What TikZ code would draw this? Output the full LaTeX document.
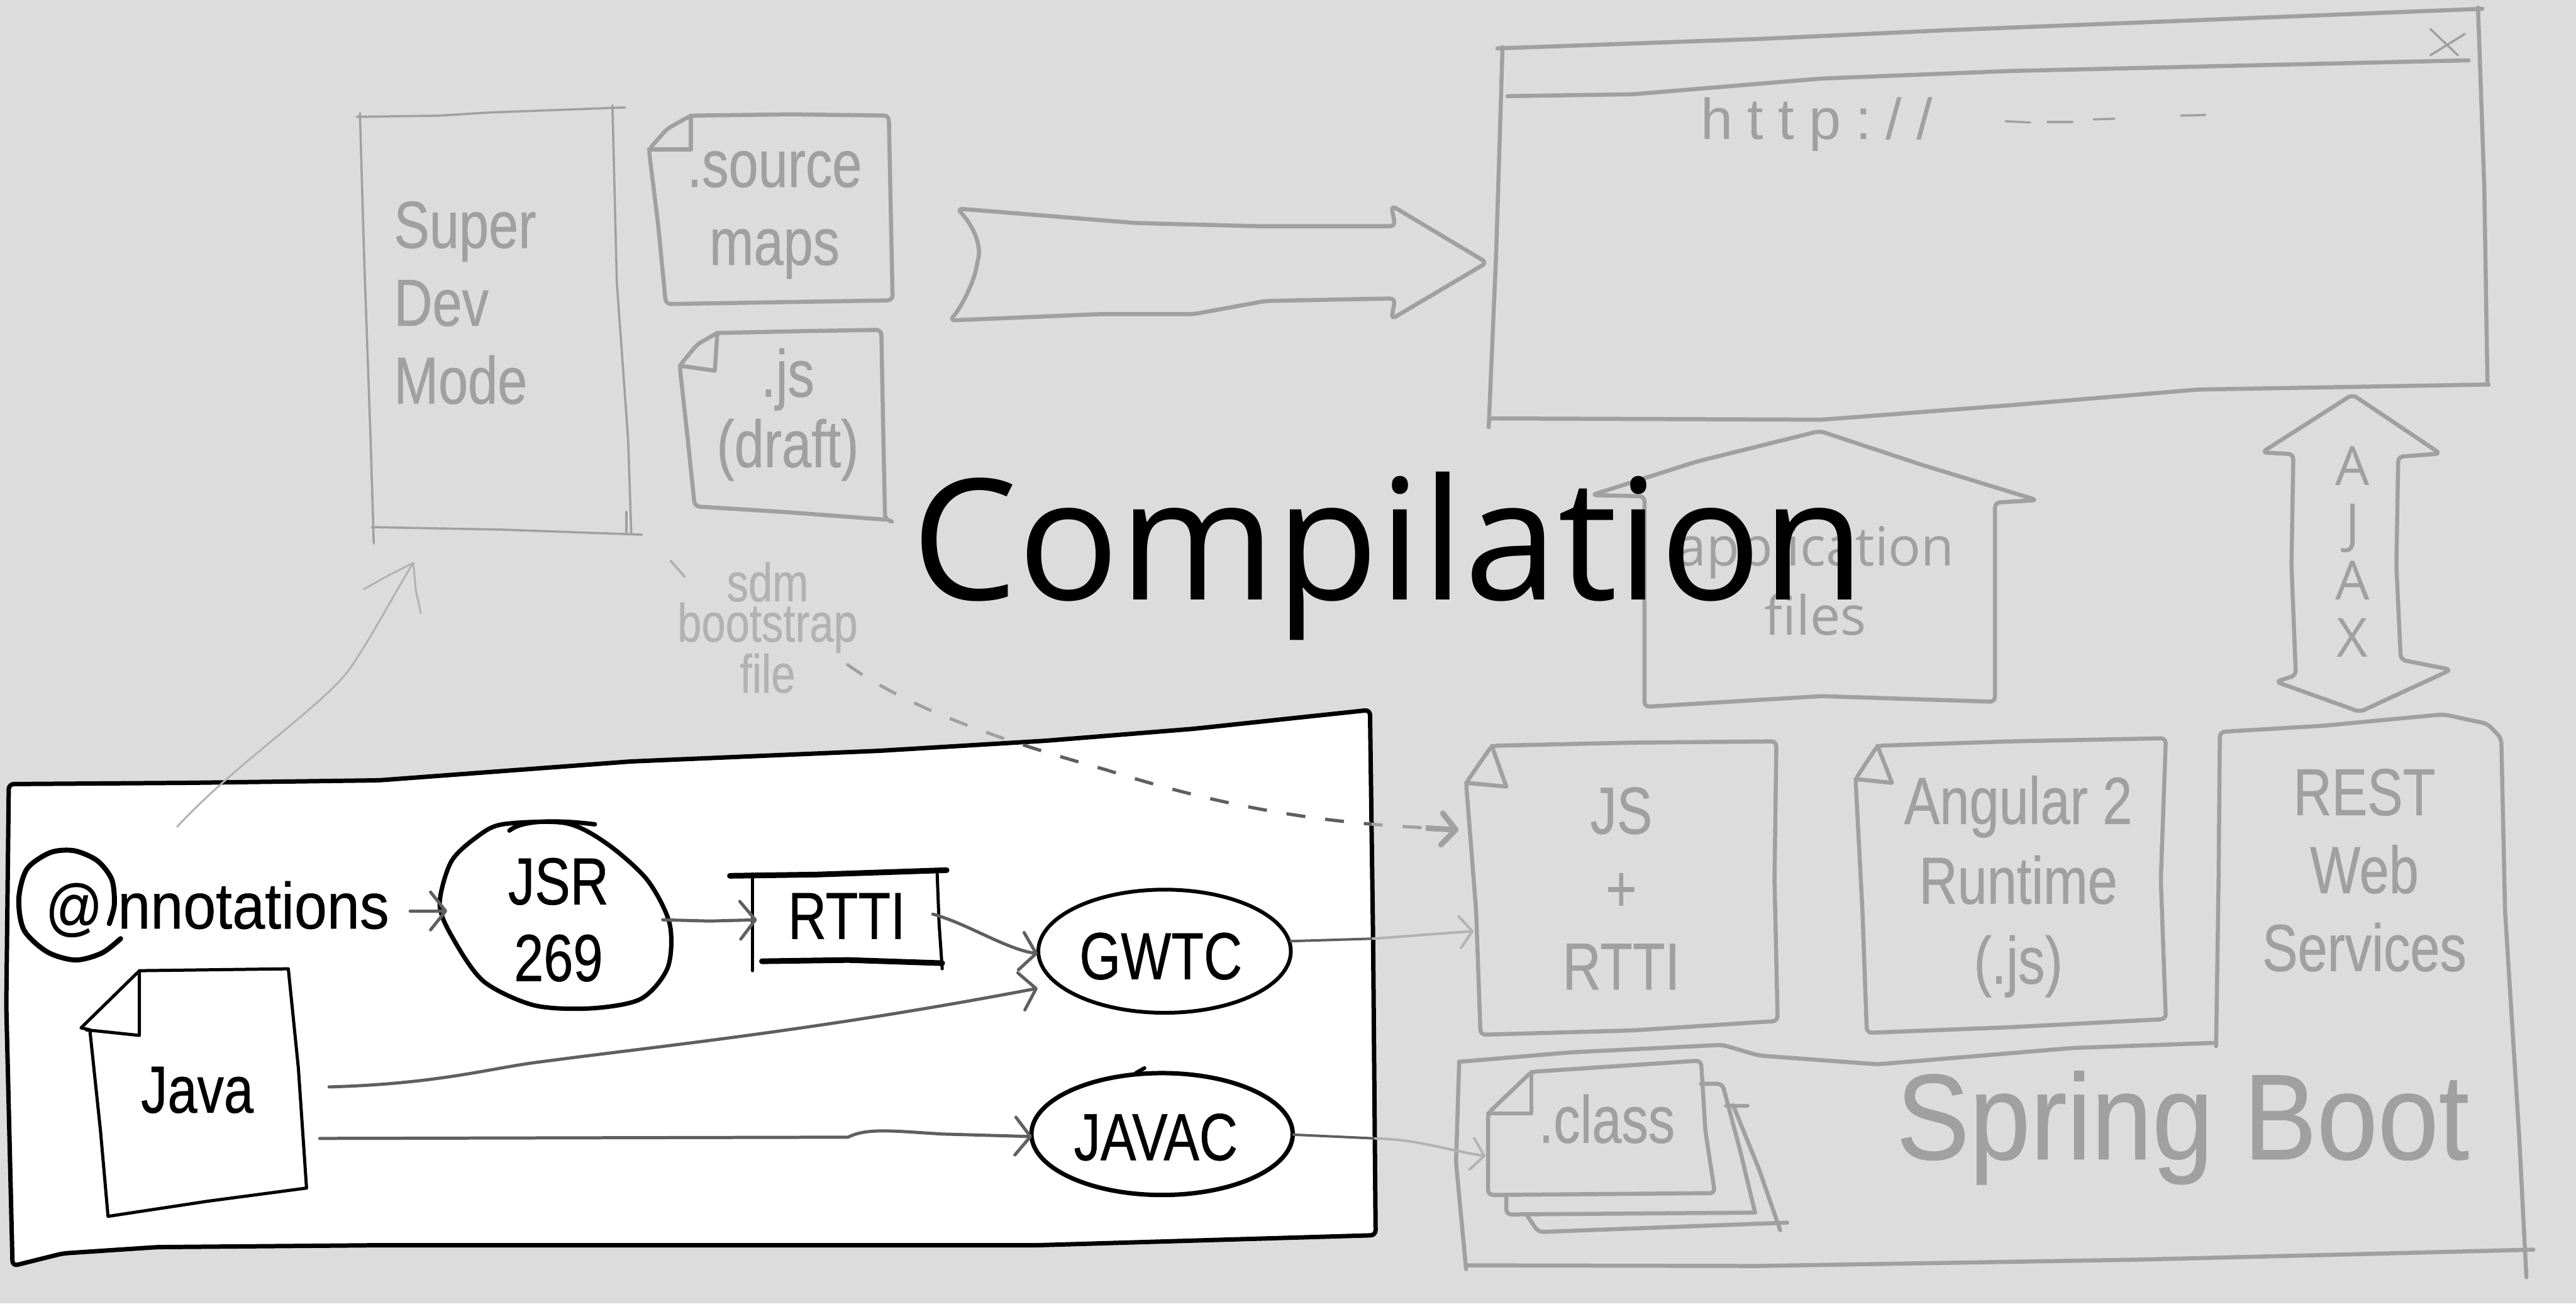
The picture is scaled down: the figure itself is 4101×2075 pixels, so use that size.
\documentclass[tikz,border=0pt]{standalone}
\usepackage{fontspec}
\setmainfont{Liberation Sans}
\newfontfamily\rob[FakeStretch=0.9,FakeBold=0.4]{Liberation Sans}
\newfontfamily\robn[FakeStretch=0.8,FakeBold=0.5]{Liberation Sans}
\newfontfamily\handf[LetterSpace=25]{Liberation Sans}
\newfontfamily\seg{Open Sans}
\usetikzlibrary{arrows.meta}
\definecolor{bgc}{RGB}{220,220,220}
\definecolor{lg}{RGB}{160,160,160}
\definecolor{llg}{RGB}{178,178,178}
\definecolor{dg}{RGB}{95,95,95}
\tikzset{
  gl/.style={draw=lg, line width=6.5pt, line cap=round, line join=round, rounded corners=8pt},
  gthin/.style={draw=lg, line width=3.5pt, line cap=round, line join=round},
  bl/.style={draw=black, line width=7pt, line cap=round, line join=round, rounded corners=8pt},
  barb/.style={-{Straight Barb[length=24pt,width=60pt,line width=5pt,round]}},
  conn/.style={draw=dg, line width=5pt, line cap=round, barb},
  lconn/.style={draw=llg, line width=4pt, line cap=round},
  gtxt/.style={text=lg, font=\robn\fontsize{106}{124}\selectfont, align=center, inner sep=0pt},
  btxt/.style={text=black, font=\robn\fontsize{106}{122}\selectfont, align=center, inner sep=0pt},
}
\begin{document}
\begin{tikzpicture}[x=1pt,y=-1pt]
\useasboundingbox (0,0) rectangle (4101,2075);
\fill[bgc] (0,0) rectangle (4101,2075);

% ---------- Super Dev Mode ----------
\draw[gthin] (568,186) -- (700,184) -- (780,179) -- (995,171);
\draw[gthin] (573,180) -- (580,420) -- (590,700) -- (595,865);
\draw[gthin] (975,168) -- (982,450) -- (1000,700) -- (1005,850);
\draw[gthin] (592,839) -- (800,843) -- (1022,851);
\draw[gthin] (997,815) -- (997,848);
\node[gtxt, align=left, anchor=west] (sdmode) at (627,482) {Super\\Dev\\Mode};

% ---------- .source maps ----------
\draw[gl] (1100,184) -- (1260,182) -- (1415,184) -- (1418,330) -- (1421,478) -- (1240,481) -- (1060,484) -- (1048,360) -- (1033,238) -- (1062,205) -- cycle;
\draw[gl, rounded corners=0pt] (1100,184) -- (1100,238) -- (1033,238);
\node[gtxt] (srcmaps) at (1233,342) {.source\\maps};

% ---------- .js (draft) ----------
\draw[gl] (1142,530) -- (1280,527) -- (1403,525) -- (1406,680) -- (1409,827) -- (1420,830);
\draw[gl] (1409,827) -- (1250,815) -- (1106,806) -- (1095,700) -- (1082,582) -- (1110,548) -- (1142,530);
\draw[gl, rounded corners=0pt] (1142,530) -- (1138,590) -- (1082,582);
\node[gtxt, font=\robn\fontsize{106}{112}\selectfont] (jsdraft) at (1254,660) {.js\\(draft)};

% ---------- big arrow ----------
\draw[gl] (1524,332) .. controls (1550,360) and (1562,390) .. (1556,418) .. controls (1550,450) and (1530,490) .. (1512,510) -- (1750,500) -- (1900,500) -- (2015,479) -- (2221,475) -- (2215,508) -- (2367,418) -- (2215,327) -- (2221,360) -- (2000,360) -- (1809,355) -- cycle;

% ---------- browser window ----------
\draw[gl] (2384,77) -- (2800,62) -- (3100,48) -- (3952,14);
\draw[gl] (2392,75) -- (2382,400) -- (2370,680);
\draw[gl] (3945,12) -- (3955,300) -- (3960,612);
\draw[gl] (3962,612) -- (3500,620) -- (3200,645) -- (2900,668) -- (2372,666);
\draw[gl] (2400,153) -- (2600,150) -- (2900,125) -- (3200,113) -- (3930,96);
\draw[gthin] (3869,46) -- (3913,88);
\draw[gthin] (3924,54) -- (3869,88);
\node[text=lg, font=\handf\fontsize{92}{92}\selectfont, anchor=base west, inner sep=0pt] (url) at (2708,222) {http://};
\draw[gthin] (3193,193) -- (3232,195);
\draw[gthin] (3260,194) -- (3299,194);
\draw[gthin] (3333,190) -- (3366,189);
\draw[gthin] (3472,184) -- (3511,183);

% ---------- application files ----------
\draw[gl] (2618,1125) -- (2618,790) -- (2534,788) -- (2700,735) -- (2897,686) -- (3060,740) -- (3243,796) -- (3176,800) -- (3176,1117) -- (2900,1108) -- cycle;
\node[text=lg, font=\seg\fontsize{86}{110}\selectfont, align=center, inner sep=0pt] (appfiles) at (2890,923) {application\\files};

% ---------- AJAX ----------
\draw[gl] (3745,628) -- (3885,722) -- (3818,727) -- (3815,900) -- (3822,1050) -- (3902,1066) -- (3757,1133) -- (3623,1085) -- (3655,1075) -- (3648,900) -- (3651,723) -- (3601,720) -- cycle;
\node[text=lg, font=\seg\fontsize{86}{91}\selectfont, align=center, inner sep=0pt] (ajax) at (3745,878) {A\\J\\A\\X};

% ---------- Spring Boot container ----------
\draw[gl] (2323,1690) -- (2500,1675) -- (2742,1663) -- (2800,1680) -- (2989,1694) -- (3300,1668) -- (3523,1660);
\draw[gl] (3528,1665) -- (3532,1400) -- (3534,1165) -- (3700,1155) -- (3890,1137) -- (3960,1152) -- (3982,1175) -- (3988,1450) -- (4010,1800) -- (4022,2033);
\draw[gl] (4033,1989) -- (3800,1995) -- (3400,2005) -- (2800,2015) -- (2334,2014);
\draw[gl] (2323,1690) -- (2318,1850) -- (2334,2020);
\node[gtxt] (rest) at (3764,1385) {REST\\Web\\Services};
\node[gtxt, font=\rob\fontsize{194}{194}\selectfont] (spring) at (3475,1795) {Spring Boot};

% ---------- JS + RTTI ----------
\draw[gl] (2375,1187) -- (2600,1182) -- (2828,1180) -- (2825,1400) -- (2830,1625) -- (2600,1640) -- (2357,1647) -- (2350,1450) -- (2334,1246) -- cycle;
\draw[gl, rounded corners=0pt] (2375,1187) -- (2398,1252) -- (2334,1246);
\node[gtxt] (jsrtti) at (2581,1414) {JS\\+\\RTTI};

% ---------- Angular ----------
\draw[gl] (2989,1187) -- (3200,1180) -- (3448,1175) -- (3440,1400) -- (3448,1622) -- (3200,1635) -- (2972,1644) -- (2965,1450) -- (2954,1240) -- cycle;
\draw[gl, rounded corners=0pt] (2989,1187) -- (3012,1246) -- (2954,1240);
\node[gtxt, font=\robn\fontsize{106}{127}\selectfont] (angular) at (3213,1411) {Angular 2\\Runtime\\(.js)};

% ---------- .class stack ----------
\draw[gl] (2748,1760) -- (2782,1760);
\draw[gl] (2759,1759) -- (2800,1860) -- (2834,1958);
\draw[gl] (2432,1936) -- (2449,1961) -- (2845,1946);
\draw[gl] (2708,1725) -- (2742,1725) -- (2770,1830) -- (2794,1930);
\draw[gl] (2398,1902) -- (2398,1933) -- (2794,1930);
\draw[gl] (2438,1706) -- (2708,1688) -- (2715,1800) -- (2730,1899) -- (2369,1902) -- (2369,1772) -- cycle;
\draw[gl, rounded corners=0pt] (2438,1706) -- (2438,1772) -- (2369,1772);
\node[gtxt] (class) at (2558,1781) {.class};

% ---------- sdm bootstrap file ----------
\node[text=llg, font=\robn\fontsize{86}{58}\selectfont, align=center, inner sep=0pt] (sdmfile) at (1222,999) {sdm\\bootstrap\\file};

% ---------- white box ----------
\def\wbox{(14,1248) -- (300,1246) -- (603,1242) -- (1004,1212) -- (1400,1195) -- (1665,1179) -- (1900,1160) -- (2181,1130) -- (2186,1500) -- (2190,1966) -- (1650,1982) -- (600,1982) -- (250,1985) -- (100,1995) -- (20,2015) -- (10,1600) -- cycle}
\fill[white, rounded corners=8pt] \wbox;
\draw[bl] \wbox;

% dashed connector (sdm bootstrap file -> JS)
\coordinate (dsA) at (1068,893);
\coordinate (dsB) at (1090,918);
\coordinate (dsC) at (1348,1057);
\coordinate (jsfold) at (2322,1321);
\draw[draw=llg, line width=4pt, line cap=round] (dsA) -- (dsB);
\draw[draw=lg, line width=5pt, dash pattern=on 30pt off 32pt] (dsC) .. controls (1450,1130) and (1600,1180) .. (1760,1225) .. controls (1950,1285) and (2100,1310) .. (2280,1318);
\begin{scope}
  \clip \wbox;
  \draw[draw=dg, line width=5pt, dash pattern=on 30pt off 32pt] (dsC) .. controls (1450,1130) and (1600,1180) .. (1760,1225) .. controls (1950,1285) and (2100,1310) .. (2280,1318);
\end{scope}
\draw[draw=lg, line width=9pt, -{Straight Barb[length=22pt,width=50pt,line width=9pt,round]}] (2270,1318) -- (jsfold);

% ---------- arrow into Super Dev Mode ----------
\coordinate (sdmin) at (658,896);
\coordinate (boxsrc) at (282,1316);
\draw[draw=llg, line width=3pt, line cap=round] (boxsrc) .. controls (380,1210) and (520,1120) .. (560,1060) .. controls (600,1000) and (630,940) .. (sdmin);
\draw[draw=llg, line width=3pt, line cap=round, line join=round] (579,938) -- (620,915) -- (sdmin) -- (662,940) -- (670,976);

% ---------- black content ----------
% @ loop
\draw[draw=black, line width=8pt, line cap=round] plot[smooth] coordinates {(192,1494) (162,1517) (120,1528) (75,1515) (38,1480) (30,1430) (43,1383) (80,1357) (118,1354) (155,1370) (178,1400) (182,1440) (174,1470)};
\node[btxt, anchor=base west, font=\rob\fontsize{104}{104}\selectfont] (annot) at (72,1478) {{\fontsize{100}{100}\selectfont @}\kern24pt nnotations};

% JSR 269
\draw[draw=black, line width=7pt, line join=round] plot[smooth cycle] coordinates {(800,1312) (900,1310) (965,1342) (1030,1400) (1066,1470) (1063,1540) (1020,1590) (940,1605) (850,1600) (770,1562) (722,1495) (700,1440) (718,1372) (758,1333)};
\draw[draw=black, line width=7pt, line cap=round] (811,1322) .. controls (830,1306) and (880,1304) .. (947,1312);
\node[btxt] (jsr) at (889,1464) {JSR\\269};

% RTTI
\draw[draw=black, line width=9pt, line cap=round] (1162,1394) -- (1300,1392) -- (1507,1385);
\draw[draw=black, line width=9pt, line cap=round] (1213,1530) -- (1350,1528) -- (1500,1533);
\draw[draw=black, line width=5pt, line cap=round] (1198,1391) -- (1198,1545);
\draw[draw=black, line width=5pt, line cap=round] (1492,1391) -- (1495,1470) -- (1500,1542);
\node[btxt] (rtti) at (1348,1458) {RTTI};

% GWTC / JAVAC
\draw[draw=black, line width=6pt] (1854,1514) ellipse [x radius=201, y radius=98];
\node[btxt] (gwtc) at (1848,1522) {GWTC};
\draw[draw=black, line width=7pt] (1850,1805) ellipse [x radius=208, y radius=97];
\draw[draw=black, line width=6pt, line cap=round] (1808,1708) -- (1822,1700);
\node[btxt] (javac) at (1840,1810) {JAVAC};

% Java doc
\draw[draw=black, line width=5pt, line join=round] (222,1545) -- (459,1542) -- (475,1700) -- (488,1891) -- (330,1912) -- (172,1936) -- (160,1800) -- (143,1639) -- (129,1636) -- cycle;
\draw[draw=black, line width=5pt, line join=round] (222,1545) -- (222,1648) -- (136,1639);
\node[btxt] (java) at (314,1735) {Java};

% connectors
\coordinate (annE) at (653,1450);
\coordinate (jsrW) at (712,1450);
\coordinate (jsrE) at (1055,1464);
\coordinate (rttiW) at (1205,1464);
\coordinate (rttiE) at (1485,1455);
\coordinate (gwtcW1) at (1652,1518);
\coordinate (javaE1) at (524,1730);
\coordinate (gwtcW2) at (1652,1573);
\coordinate (javaE2) at (509,1812);
\coordinate (javacW) at (1643,1809);
\draw[conn] (annE) -- (jsrW);
\draw[conn] (jsrE) -- (1130,1466) -- (rttiW);
\draw[conn] (rttiE) .. controls (1540,1470) and (1600,1510) .. (gwtcW1);
\draw[conn] (javaE1) .. controls (700,1725) and (780,1700) .. (861,1690) .. controls (1050,1665) and (1300,1640) .. (gwtcW2);
\draw[conn] (javaE2) -- (1350,1810) .. controls (1380,1795) and (1420,1800) .. (1500,1805) -- (javacW);

% gray connectors leaving the box
\coordinate (gwtcE) at (2055,1498);
\coordinate (bxE1) at (2186,1494);
\coordinate (jsW) at (2346,1482);
\coordinate (javacE) at (2059,1806);
\coordinate (bxE2) at (2190,1812);
\coordinate (classW) at (2365,1840);
\draw[draw=dg, line width=4pt, line cap=round] (gwtcE) -- (bxE1);
\draw[lconn, -{Straight Barb[length=20pt,width=50pt,line width=4pt,round]}] (bxE1) -- (jsW);
\draw[draw=dg, line width=4pt, line cap=round] (javacE) -- (bxE2);
\draw[lconn, -{Straight Barb[length=20pt,width=50pt,line width=4pt,round]}] (bxE2) .. controls (2260,1814) and (2300,1830) .. (classW);

% ---------- title ----------
\node[text=black, font=\seg\fontsize{268}{268}\selectfont, anchor=base, inner sep=0pt] (title) at (2210,955) {Compilation};
\end{tikzpicture}
\end{document}
